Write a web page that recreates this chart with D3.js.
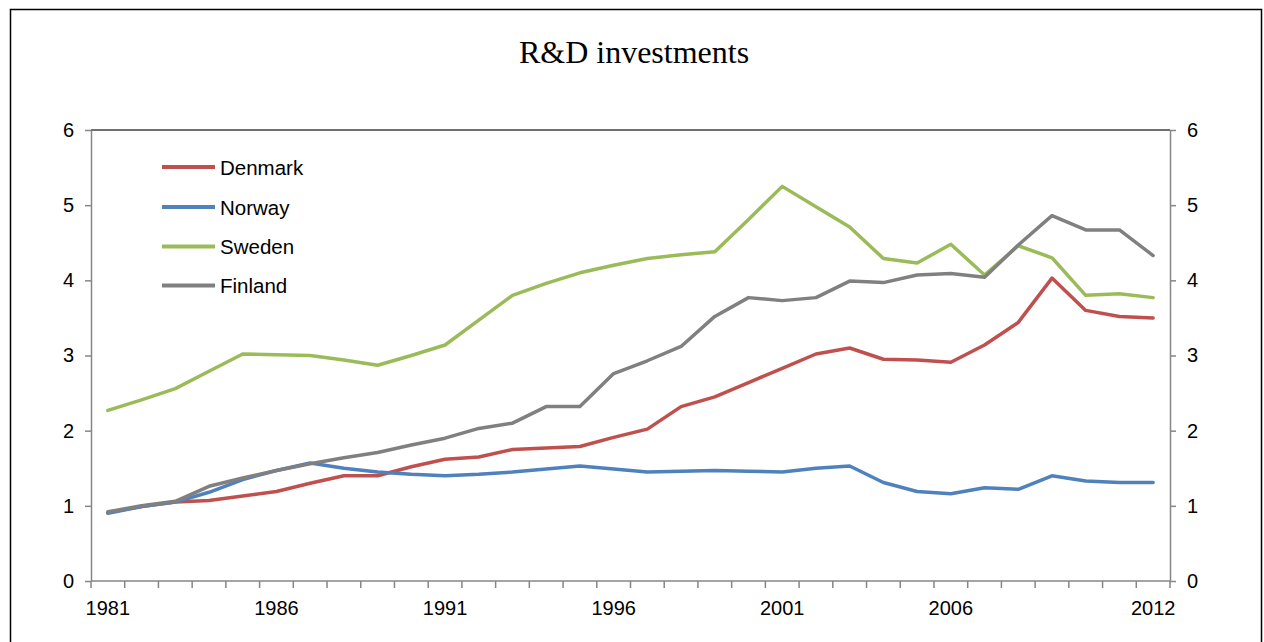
<!DOCTYPE html>
<html>
<head>
<meta charset="utf-8">
<script src="https://cdn.jsdelivr.net/npm/d3@7"></script>
<style>
  html, body { margin: 0; padding: 0; background: #fff; }
  svg { display: block; }
</style>
</head>
<body>
<svg id="chart" width="1264" height="642"></svg>
<script>
const years = d3.range(1981, 2013);
const tickLabelYears = [1981, 1986, 1991, 1996, 2001, 2006, 2012];
const yTicks = [0, 1, 2, 3, 4, 5, 6];

const denmark = [0.91, 0.99, 1.05, 1.07, 1.13, 1.19, 1.30, 1.40, 1.40, 1.52, 1.62, 1.65,
  1.75, 1.77, 1.79, 1.91, 2.02, 2.32, 2.45, 2.64, 2.83, 3.02, 3.10, 2.95, 2.94, 2.91,
  3.14, 3.44, 4.03, 3.60, 3.52, 3.50];
const norway = [0.90, 0.99, 1.05, 1.18, 1.35, 1.47, 1.57, 1.50, 1.45, 1.42, 1.40, 1.42,
  1.45, 1.49, 1.53, 1.49, 1.45, 1.46, 1.47, 1.46, 1.45, 1.50, 1.53, 1.31, 1.19, 1.16,
  1.24, 1.22, 1.40, 1.33, 1.31, 1.31];
const sweden = [2.27, 2.41, 2.56, 2.79, 3.02, 3.01, 3.00, 2.94, 2.87, 3.00, 3.14, 3.47,
  3.80, 3.96, 4.10, 4.20, 4.29, 4.34, 4.38, 4.81, 5.25, 4.98, 4.71, 4.29, 4.23, 4.48,
  4.07, 4.46, 4.30, 3.80, 3.82, 3.77];
const finland = [0.92, 1.00, 1.06, 1.26, 1.37, 1.47, 1.56, 1.64, 1.71, 1.81, 1.90, 2.03,
  2.10, 2.32, 2.32, 2.76, 2.93, 3.12, 3.52, 3.77, 3.73, 3.77, 3.99, 3.97, 4.07, 4.09,
  4.04, 4.47, 4.86, 4.67, 4.67, 4.33];

const seriesNames = ["Denmark", "Norway", "Sweden", "Finland"];
const seriesColors = ["#C0504D", "#4F81BD", "#9BBB59", "#808080"];
const seriesValues = [denmark, norway, sweden, finland];

(function () {
const svg = d3.select("#chart");
const fontSans = "'Liberation Sans', Arial, sans-serif";
const axisColor = "#868686";

// outer frame
svg.append("rect")
  .attr("x", 10.5).attr("y", 9.5)
  .attr("width", 1251).attr("height", 640)
  .attr("fill", "none").attr("stroke", "#000").attr("stroke-width", 1.5);

// title
svg.append("text")
  .attr("x", 634).attr("y", 63)
  .attr("text-anchor", "middle")
  .attr("font-family", "'Liberation Serif', 'Times New Roman', serif")
  .attr("font-size", 32)
  .attr("fill", "#000")
  .text("R&D investments");

const pL = 91, pR = 1170, pT = 130, pB = 581;

const x = d3.scaleBand().domain(years).range([pL, pR]).paddingInner(0).paddingOuter(0);
const y = d3.scaleLinear().domain([0, 6]).range([pB, pT]);
const xc = yr => x(yr) + x.bandwidth() / 2;

// top border of plot
svg.append("line")
  .attr("x1", pL).attr("x2", pR)
  .attr("y1", y(6)).attr("y2", y(6))
  .attr("stroke", "#404040").attr("stroke-width", 1.5);

// left axis
const gL = svg.append("g").attr("transform", `translate(${pL},0)`)
  .call(d3.axisLeft(y).tickValues(yTicks).tickFormat(d3.format("d")).tickSize(6).tickSizeOuter(0).tickPadding(11));
// right axis
const gR = svg.append("g").attr("transform", `translate(${pR},0)`)
  .call(d3.axisRight(y).tickValues(yTicks).tickFormat(d3.format("d")).tickSize(6).tickSizeOuter(0).tickPadding(11));

[gL, gR].forEach(g => {
  g.select(".domain").attr("stroke", axisColor).attr("stroke-width", 1.5);
  g.selectAll(".tick line").attr("stroke", axisColor).attr("stroke-width", 1.5);
  g.selectAll(".tick text").attr("font-family", fontSans).attr("font-size", 20).attr("fill", "#000");
});

// bottom axis line
svg.append("line")
  .attr("x1", pL).attr("x2", pR)
  .attr("y1", pB).attr("y2", pB)
  .attr("stroke", axisColor).attr("stroke-width", 1.5);

// bottom ticks between categories
const boundaries = years.map(yr => x(yr)).concat([x(years[years.length - 1]) + x.bandwidth()]);
svg.append("g").selectAll("line").data(boundaries).join("line")
  .attr("x1", d => d).attr("x2", d => d)
  .attr("y1", pB).attr("y2", pB + 7)
  .attr("stroke", axisColor).attr("stroke-width", 1.5);

// bottom labels
svg.append("g").selectAll("text").data(tickLabelYears).join("text")
  .attr("x", d => xc(d)).attr("y", 615)
  .attr("text-anchor", "middle")
  .attr("font-family", fontSans).attr("font-size", 20).attr("fill", "#000")
  .text(d => d);

// lines
const line = d3.line().x((d, i) => xc(years[i])).y(d => y(d));
seriesValues.forEach((vals, k) => {
  svg.append("path")
    .datum(vals)
    .attr("d", line)
    .attr("fill", "none")
    .attr("stroke", seriesColors[k])
    .attr("stroke-width", 3.5)
    .attr("stroke-linejoin", "round")
    .attr("stroke-linecap", "round");
});

// legend
const legendY = [167, 207, 246.5, 285.5];
const lg = svg.append("g");
seriesNames.forEach((name, k) => {
  lg.append("line")
    .attr("x1", 162).attr("x2", 215)
    .attr("y1", legendY[k]).attr("y2", legendY[k])
    .attr("stroke", seriesColors[k]).attr("stroke-width", 4);
  lg.append("text")
    .attr("x", 220).attr("y", legendY[k] + 7.5)
    .attr("font-family", fontSans).attr("font-size", 20.5).attr("fill", "#000")
    .text(name);
});
})();
</script>
</body>
</html>
